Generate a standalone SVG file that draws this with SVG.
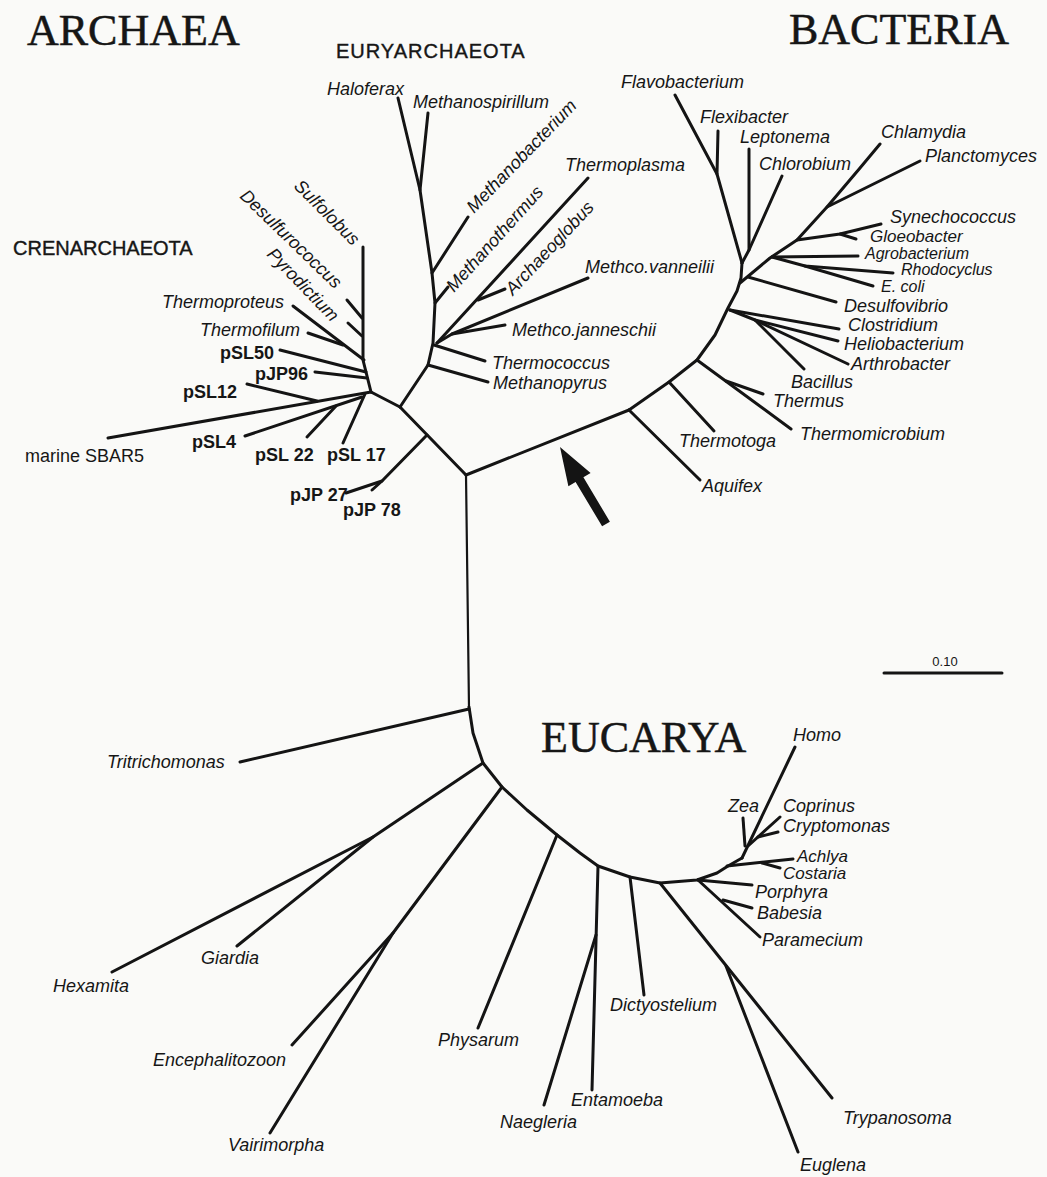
<svg xmlns="http://www.w3.org/2000/svg" width="1047" height="1177" viewBox="0 0 1047 1177">
<style>
.ln{stroke:#141414;stroke-width:3;fill:none;stroke-linecap:round;stroke-linejoin:round}
.thin{stroke-width:2.2}
.sp{font-family:"Liberation Sans",Arial,sans-serif;font-style:italic;font-size:18px;fill:#161616}
.sm{font-size:17px}
.xs{font-size:16px}
.pl{font-family:"Liberation Sans",Arial,sans-serif;font-weight:bold;font-size:18px;fill:#161616}
.rg{font-family:"Liberation Sans",Arial,sans-serif;font-size:18px;fill:#161616}
.grp{font-family:"Liberation Sans",Arial,sans-serif;font-size:20px;fill:#161616;stroke:#161616;stroke-width:0.4}
.dom{font-family:"Liberation Serif","Times New Roman",serif;font-size:44px;fill:#161616;stroke:#161616;stroke-width:0.5}
.sc{font-family:"Liberation Sans",Arial,sans-serif;font-size:13px;fill:#161616}
</style>
<rect width="1047" height="1177" fill="#fafaf8"/>

<g id="connectors">
  <!-- root -->
  <path class="ln thin" d="M466,475 L469,707"/>
  <path class="ln" d="M466,475 L400,407"/>
  <path class="ln" d="M466,475 L629,410"/>
  <!-- bacteria backbone -->
  <path class="ln" d="M629,410 L669,382 L697,360 L715,335 L728,308 L737,291 L741,278 L742,263"/>
  <path class="ln" d="M629,410 L700,480"/>
  <path class="ln" d="M669,382 L714,431"/>
  <path class="ln" d="M697,360 L791,429"/>
  <path class="ln" d="M726,381 L763,394"/>
  <path class="ln" d="M730,310 L839,329"/>
  <path class="ln" d="M730,310 L755,320 L838,341"/>
  <path class="ln" d="M755,320 L848,364"/>
  <path class="ln" d="M755,320 L804,369"/>
  <path class="ln" d="M740,283 L770,258 L797,240 L827,207 L860,168 L880,144"/>
  <path class="ln" d="M748,277 L836,302"/>
  <path class="ln" d="M772,257 L858,256"/>
  <path class="ln" d="M772,257 L805,266 L893,273"/>
  <path class="ln" d="M805,266 L873,286"/>
  <path class="ln" d="M797,240 L840,234 L881,224"/>
  <path class="ln" d="M840,234 L856,239"/>
  <path class="ln" d="M827,207 L920,161"/>
  <path class="ln" d="M742,263 L717,174 L675,95"/>
  <path class="ln" d="M717,174 L718,131"/>
  <path class="ln" d="M742,263 L749,250 L749,149"/>
  <path class="ln" d="M749,250 L782,176"/>
  <!-- euryarchaeota -->
  <path class="ln" d="M400,407 L428,365 L433,343 L435,303 L432,273 L420,190 L398,98"/>
  <path class="ln" d="M420,190 L428,113"/>
  <path class="ln" d="M432,273 L468,217"/>
  <path class="ln" d="M435,303 L448,287"/>
  <path class="ln" d="M428,365 L488,382"/>
  <path class="ln" d="M434,345 L485,361"/>
  <path class="ln" d="M437,343 L588,178"/>
  <path class="ln" d="M478,300 L505,289"/>
  <path class="ln" d="M437,343 L452,334 L588,278"/>
  <path class="ln" d="M452,334 L505,325"/>
  <!-- crenarchaeota -->
  <path class="ln" d="M400,407 L371,392"/>
  <path class="ln" d="M371,392 L363,360 L363,247"/>
  <path class="ln" d="M362,318 L347,300"/>
  <path class="ln" d="M362,336 L348,323"/>
  <path class="ln" d="M364,360 L293,306"/>
  <path class="ln" d="M343,345 L308,333"/>
  <path class="ln" d="M366,372 L280,350"/>
  <path class="ln" d="M367,378 L315,372"/>
  <path class="ln" d="M371,392 L108,438"/>
  <path class="ln" d="M317,401 L247,384"/>
  <path class="ln" d="M362,397 L245,436"/>
  <path class="ln" d="M336,406 L307,437"/>
  <path class="ln" d="M365,394 L343,443"/>
  <path class="ln" d="M427,435 L382,481 L346,493"/>
  <path class="ln" d="M382,481 L372,490"/>
  <!-- eucarya -->
  <path class="ln" d="M469,707 L473,733 L483,763 L502,787 L527,810 L557,835 L580,853 L598,866 L630,877 L660,883 L697,880 L717,873 L728,866 L742,858"/>
  <path class="ln" d="M469,709 L240,762"/>
  <path class="ln" d="M483,763 L373,837 L112,972"/>
  <path class="ln" d="M373,837 L237,946"/>
  <path class="ln" d="M502,787 L393,933 L270,1133"/>
  <path class="ln" d="M393,933 L292,1045"/>
  <path class="ln" d="M557,835 L478,1028"/>
  <path class="ln" d="M598,866 L592,1090"/>
  <path class="ln" d="M596,935 L544,1105"/>
  <path class="ln" d="M630,877 L644,995"/>
  <path class="ln" d="M660,883 L832,1098"/>
  <path class="ln" d="M726,966 L798,1152"/>
  <path class="ln" d="M698,880 L752,885"/>
  <path class="ln" d="M698,880 L760,937"/>
  <path class="ln" d="M723,900 L752,908"/>
  <path class="ln" d="M727,866 L793,859"/>
  <path class="ln" d="M762,863 L780,868"/>
  <path class="ln" d="M742,858 L795,747"/>
  <path class="ln" d="M745,846 L743,818"/>
  <path class="ln" d="M748,846 L780,817"/>
  <path class="ln" d="M758,837 L778,832"/>
</g>

<g id="arrow"><polygon fill="#141414" points="560,447 590.6,472.9 583.4,477.3 609.9,521.7 602.1,526.3 575.6,482 568.4,486.3"/></g>
<g id="scale-bar"><path class="ln" d="M884,673 L1002,673"/><text class="sc" x="945" y="666" text-anchor="middle">0.10</text></g>

<g id="domain-archaea"><text class="dom" x="27" y="45">ARCHAEA</text></g>
<g id="domain-bacteria"><text class="dom" x="789" y="44">BACTERIA</text></g>
<g id="domain-eucarya"><text class="dom" x="541" y="752">EUCARYA</text></g>
<g id="group-euryarchaeota"><text class="grp" x="336" y="58" letter-spacing="1">EURYARCHAEOTA</text></g>
<g id="group-crenarchaeota"><text class="grp" x="13" y="255">CRENARCHAEOTA</text></g>

<g id="bacteria-labels">
  <g id="n-flavobacterium"><text class="sp" x="621" y="88">Flavobacterium</text></g>
  <g id="n-flexibacter"><text class="sp" x="700" y="123">Flexibacter</text></g>
  <g id="n-leptonema"><text class="sp" x="740" y="143">Leptonema</text></g>
  <g id="n-chlorobium"><text class="sp" x="759" y="170">Chlorobium</text></g>
  <g id="n-chlamydia"><text class="sp" x="881" y="138">Chlamydia</text></g>
  <g id="n-planctomyces"><text class="sp" x="925" y="162">Planctomyces</text></g>
  <g id="n-synechococcus"><text class="sp" x="890" y="223">Synechococcus</text></g>
  <g id="n-gloeobacter"><text class="sp sm" x="870" y="242">Gloeobacter</text></g>
  <g id="n-agrobacterium"><text class="sp xs" x="865" y="258.5">Agrobacterium</text></g>
  <g id="n-rhodocyclus"><text class="sp xs" x="901" y="275">Rhodocyclus</text></g>
  <g id="n-ecoli"><text class="sp xs" x="881" y="291.5">E. coli</text></g>
  <g id="n-desulfovibrio"><text class="sp" x="844" y="312">Desulfovibrio</text></g>
  <g id="n-clostridium"><text class="sp" x="848" y="331">Clostridium</text></g>
  <g id="n-heliobacterium"><text class="sp" x="844" y="350">Heliobacterium</text></g>
  <g id="n-arthrobacter"><text class="sp" x="851" y="370">Arthrobacter</text></g>
  <g id="n-bacillus"><text class="sp" x="791" y="388">Bacillus</text></g>
  <g id="n-thermus"><text class="sp" x="773" y="407">Thermus</text></g>
  <g id="n-thermomicrobium"><text class="sp" x="800" y="440">Thermomicrobium</text></g>
  <g id="n-thermotoga"><text class="sp" x="679" y="447">Thermotoga</text></g>
  <g id="n-aquifex"><text class="sp" x="702" y="492">Aquifex</text></g>
</g>

<g id="archaea-labels">
  <g id="n-haloferax"><text class="sp" x="327" y="95">Haloferax</text></g>
  <g id="n-methanospirillum"><text class="sp" x="413" y="108">Methanospirillum</text></g>
  <g id="n-methanobacterium"><text class="sp" transform="translate(474,214) rotate(-46)">Methanobacterium</text></g>
  <g id="n-methanothermus"><text class="sp" transform="translate(454,293) rotate(-48)">Methanothermus</text></g>
  <g id="n-archaeoglobus"><text class="sp" transform="translate(513,296) rotate(-47)">Archaeoglobus</text></g>
  <g id="n-thermoplasma"><text class="sp" x="565" y="171">Thermoplasma</text></g>
  <g id="n-methco-vanneilii"><text class="sp" x="585" y="273">Methco.vanneilii</text></g>
  <g id="n-methco-janneschii"><text class="sp" x="512" y="336">Methco.janneschii</text></g>
  <g id="n-thermococcus"><text class="sp" x="492" y="369">Thermococcus</text></g>
  <g id="n-methanopyrus"><text class="sp" x="493" y="389">Methanopyrus</text></g>
  <g id="n-sulfolobus"><text class="sp" transform="translate(293,187) rotate(45)">Sulfolobus</text></g>
  <g id="n-desulfurococcus"><text class="sp" transform="translate(239,197) rotate(44)">Desulfurococcus</text></g>
  <g id="n-pyrodictium"><text class="sp" transform="translate(266,255) rotate(46)">Pyrodictium</text></g>
  <g id="n-thermoproteus"><text class="sp" x="162" y="308">Thermoproteus</text></g>
  <g id="n-thermofilum"><text class="sp" x="200" y="336">Thermofilum</text></g>
  <g id="n-psl50"><text class="pl" x="220" y="359">pSL50</text></g>
  <g id="n-pjp96"><text class="pl" x="255" y="380">pJP96</text></g>
  <g id="n-psl12"><text class="pl" x="183" y="398">pSL12</text></g>
  <g id="n-psl4"><text class="pl" x="192" y="448">pSL4</text></g>
  <g id="n-psl22"><text class="pl" x="255" y="461">pSL 22</text></g>
  <g id="n-psl17"><text class="pl" x="327" y="461">pSL 17</text></g>
  <g id="n-pjp27"><text class="pl" x="290" y="501">pJP 27</text></g>
  <g id="n-pjp78"><text class="pl" x="343" y="516">pJP 78</text></g>
  <g id="n-marine-sbar5"><text class="rg" x="25" y="462">marine SBAR5</text></g>
</g>

<g id="eucarya-labels">
  <g id="n-tritrichomonas"><text class="sp" x="107" y="768">Tritrichomonas</text></g>
  <g id="n-hexamita"><text class="sp" x="53" y="992">Hexamita</text></g>
  <g id="n-giardia"><text class="sp" x="201" y="964">Giardia</text></g>
  <g id="n-encephalitozoon"><text class="sp" x="153" y="1066">Encephalitozoon</text></g>
  <g id="n-vairimorpha"><text class="sp" x="228" y="1151">Vairimorpha</text></g>
  <g id="n-physarum"><text class="sp" x="438" y="1046">Physarum</text></g>
  <g id="n-naegleria"><text class="sp" x="500" y="1128">Naegleria</text></g>
  <g id="n-entamoeba"><text class="sp" x="571" y="1106">Entamoeba</text></g>
  <g id="n-dictyostelium"><text class="sp" x="610" y="1011">Dictyostelium</text></g>
  <g id="n-trypanosoma"><text class="sp" x="843" y="1124">Trypanosoma</text></g>
  <g id="n-euglena"><text class="sp" x="800" y="1171">Euglena</text></g>
  <g id="n-homo"><text class="sp" x="793" y="741">Homo</text></g>
  <g id="n-zea"><text class="sp" x="728" y="812">Zea</text></g>
  <g id="n-coprinus"><text class="sp" x="783" y="812">Coprinus</text></g>
  <g id="n-cryptomonas"><text class="sp" x="783" y="832">Cryptomonas</text></g>
  <g id="n-achlya"><text class="sp sm" x="797" y="862">Achlya</text></g>
  <g id="n-costaria"><text class="sp sm" x="783" y="879">Costaria</text></g>
  <g id="n-porphyra"><text class="sp" x="755" y="898">Porphyra</text></g>
  <g id="n-babesia"><text class="sp" x="757" y="919">Babesia</text></g>
  <g id="n-paramecium"><text class="sp" x="762" y="946">Paramecium</text></g>
</g>
</svg>
